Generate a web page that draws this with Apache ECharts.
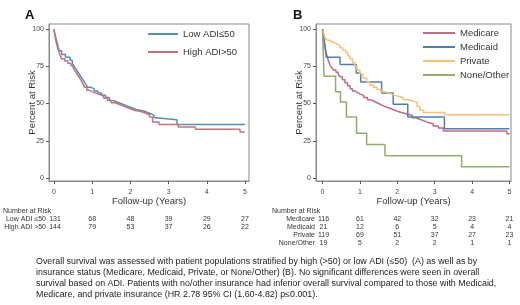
<!DOCTYPE html>
<html><head><meta charset="utf-8">
<script src="https://cdn.jsdelivr.net/npm/echarts@6/dist/echarts.min.js"></script>
<style>html,body{margin:0;padding:0;background:#fff}#c{width:520px;height:305px}</style>
</head><body><div id="c"></div>
<script>
// ---------- DATA ----------
const xTicks = [0, 1, 2, 3, 4, 5];
const yTicks = [0, 25, 50, 75, 100];

// Panel A: ADI
const lowAdiT  = [0,0.02,0.05,0.08,0.11,0.14,0.2,0.3,0.42,0.48,0.53,0.58,0.63,0.68,0.73,0.78,0.83,0.88,0.95,1.05,1.15,1.25,1.35,1.45,1.55,1.65,1.75,1.85,1.95,2.05,2.15,2.25,2.35,2.45,2.55,2.62,2.68,3.22,5.0];
const lowAdiS  = [100,97,94,91,88,85.5,83,81,79,77,75,73,71,69,67,65,63,61,60,58.5,57,55.5,54,52,51,50,49,48,47,46,45.5,45,44,43,42,40.5,39.2,36,36];
const highAdiT = [0,0.02,0.05,0.08,0.11,0.15,0.2,0.28,0.36,0.44,0.5,0.55,0.6,0.65,0.7,0.75,0.8,0.86,0.92,1.0,1.1,1.2,1.3,1.4,1.5,1.6,1.7,1.8,1.9,2.0,2.1,2.2,2.3,2.4,2.5,2.58,2.75,3.25,3.7,4.87,5.0];
const highAdiS = [100,96,92,89,86,83,80,78.5,77,75.5,74,72,70,68,66,63.5,61,59,58,57,56,55,53.5,52,50.5,49.5,48.5,47.5,46.5,45.5,45,44.5,43.5,42.5,41,37.6,36,34.2,32.7,30.9,30.9];

// Panel B: insurance
const medicareT = [0,0.02,0.04,0.07,0.1,0.13,0.16,0.2,0.25,0.3,0.36,0.42,0.47,0.53,0.6,0.67,0.74,0.8,0.87,0.93,1.0,1.1,1.2,1.3,1.4,1.5,1.6,1.7,1.8,1.9,2.0,2.1,2.25,2.4,2.5,2.6,2.7,2.8,2.96,3.1,3.23,4.93,5.0];
const medicareS = [100,95,91,87,84,81,78.5,76,74,72.5,71,69.5,68,66,64,62,60,58.5,57.5,56.5,55.5,54,52.5,51.2,50,48.8,47.7,46.8,45.8,44.8,44,43.2,42,40.5,39.5,38.5,37.5,36.5,35,33.5,31.5,29.8,29.8];
const medicaidT = [0,0.03,0.06,0.1,0.47,0.9,1.02,1.58,1.89,2.28,3.26,5.0];
const medicaidS = [100,95.2,90.5,81,76.2,70.5,64.4,57,49.5,41,33,33];
const privateT  = [0,0.03,0.06,0.1,0.15,0.22,0.3,0.38,0.46,0.54,0.62,0.68,0.74,0.8,0.86,0.92,1.0,1.08,1.18,1.27,1.36,1.46,1.56,1.66,1.78,1.89,2.0,2.16,2.3,2.43,2.53,2.6,2.7,3.27,5.0];
const privateS  = [100,97,95,93,92,91,90,89,87.5,86,84,82,80,77.5,75,72.5,70,67,64.5,62.5,61,59.5,58,57,56,55,54,52.5,51.5,51,48,45.5,44,42.5,42.5];
const noneT     = [0,0.04,0.35,0.48,0.64,0.91,1.18,1.67,3.72,5.0];
const noneS     = [100,68.4,58,51,41,30,22.5,15,7.5,7.5];

// Number at risk
const riskA = [
  {label: 'Low ADI \u226450', values: [131, 68, 48, 39, 29, 27]},
  {label: 'High ADI >50',     values: [144, 79, 53, 37, 26, 22]}
];
const riskB = [
  {label: 'Medicare',   values: [116, 61, 42, 32, 23, 21]},
  {label: 'Medicaid',   values: [21, 12, 6, 5, 4, 4]},
  {label: 'Private',    values: [119, 69, 51, 37, 27, 23]},
  {label: 'None/Other', values: [19, 5, 2, 2, 1, 1]}
];

const captionLines = [
  'Overall survival was assessed with patient populations stratified by high (>50) or low ADI (\u226450)  (A) as well as by',
  'insurance status (Medicare, Medicaid, Private, or None/Other) (B). No significant differences were seen in overall',
  'survival based on ADI. Patients with no/other insurance had inferior overall survival compared to those with Medicaid,',
  'Medicare, and private insurance (HR 2.78 95% CI (1.60-4.82) p\u22640.001).'
];

// ---------- CHART ----------
const FONT = 'Liberation Sans';
const TXT = '#333';
const FRAME = '#8a8a8a';
const pairs = (t, s) => t.map((v, i) => [v, s[i]]);

function xAx(gi, min, max) {
  return {
    gridIndex: gi, type: 'value', min: min, max: max,
    name: 'Follow-up (Years)', nameLocation: 'middle', nameGap: 15, nameMoveOverlap: false,
    nameTextStyle: {fontFamily: FONT, fontSize: 9.5, color: TXT},
    axisLine: {show: true, onZero: false, lineStyle: {color: FRAME, width: 1}},
    axisTick: {show: true, length: 3, customValues: xTicks, lineStyle: {color: '#555'}},
    axisLabel: {customValues: xTicks, fontFamily: FONT, fontSize: 7, color: '#444', margin: 8},
    splitLine: {show: false}
  };
}
function yAx(gi) {
  return {
    gridIndex: gi, type: 'value', min: -2, max: 103.4,
    name: 'Percent at Risk', nameLocation: 'middle', nameGap: 12, nameMoveOverlap: false,
    nameTextStyle: {fontFamily: FONT, fontSize: 9.5, color: TXT},
    axisLine: {show: true, onZero: false, lineStyle: {color: FRAME, width: 1}},
    axisTick: {show: true, length: 3, customValues: yTicks, lineStyle: {color: '#555'}},
    axisLabel: {customValues: yTicks, fontFamily: FONT, fontSize: 7, color: '#444', margin: 5},
    splitLine: {show: false}
  };
}
function km(name, t, s, color, xi) {
  return {
    name: name, type: 'line', step: 'end', xAxisIndex: xi, yAxisIndex: xi,
    data: pairs(t, s), symbol: 'none', lineStyle: {color: color, width: 1.5}, itemStyle: {color: color},
    animation: false
  };
}

const cLow = '#5a8fb0', cHigh = '#c4727f';
const cMcare = '#c06b80', cMcaid = '#4f80ad', cPriv = '#f2c27a', cNone = '#95ab6c';

const chart = echarts.init(document.getElementById('c'), null, {renderer: 'canvas'});
chart.setOption({
  backgroundColor: '#fff',
  animation: false,
  title: [
    {text: 'A', left: 25, top: 9, padding: 0, textStyle: {fontFamily: FONT, fontWeight: 'bold', fontSize: 13, color: '#111'}},
    {text: 'B', left: 293, top: 9, padding: 0, textStyle: {fontFamily: FONT, fontWeight: 'bold', fontSize: 13, color: '#111'}}
  ],
  grid: [
    {left: 49, top: 24, width: 200, height: 157, show: true, borderColor: FRAME, borderWidth: 1, backgroundColor: 'transparent'},
    {left: 316, top: 24, width: 195, height: 157, show: true, borderColor: FRAME, borderWidth: 1, backgroundColor: 'transparent'}
  ],
  xAxis: [xAx(0, -0.131, 5.105), xAx(1, -0.174, 5.04)],
  yAxis: [yAx(0), yAx(1)],
  legend: [
    {data: ['Low ADI\u226450', 'High ADI>50'], orient: 'vertical', left: 148, top: 28, padding: 0,
     icon: 'rect', itemWidth: 30, itemHeight: 2, itemGap: 6,
     textStyle: {fontFamily: FONT, fontSize: 9.5, color: TXT, lineHeight: 12}},
    {data: ['Medicare', 'Medicaid', 'Private', 'None/Other'], orient: 'vertical', left: 423, top: 27, padding: 0,
     icon: 'rect', itemWidth: 32, itemHeight: 2, itemGap: 2,
     textStyle: {fontFamily: FONT, fontSize: 9.5, color: TXT, lineHeight: 12}}
  ],
  series: [
    km('Low ADI\u226450', lowAdiT, lowAdiS, cLow, 0),
    km('High ADI>50', highAdiT, highAdiS, cHigh, 0),
    km('Medicare', medicareT, medicareS, cMcare, 1),
    km('Medicaid', medicaidT, medicaidS, cMcaid, 1),
    km('Private', privateT, privateS, cPriv, 1),
    km('None/Other', noneT, noneS, cNone, 1)
  ]
});

// Number-at-risk tables and caption
const g = [];
const tFont = {fontFamily: FONT, fontSize: 7, fill: '#333'};
function table(xi, rows, labelRight, headerLeft) {
  g.push({type: 'text', x: headerLeft, y: 211, style: Object.assign({text: 'Number at Risk', verticalAlign: 'middle'}, tFont)});
  rows.forEach((r, ri) => {
    const y = 219 + ri * 8;
    g.push({type: 'text', x: labelRight, y: y, style: Object.assign({text: r.label, align: 'right', verticalAlign: 'middle'}, tFont)});
    r.values.forEach((v, i) => {
      const px = chart.convertToPixel({xAxisIndex: xi}, xTicks[i]);
      g.push({type: 'text', x: px + (i === 0 ? 1 : 0), y: y, style: Object.assign({text: String(v), align: 'center', verticalAlign: 'middle'}, tFont)});
    });
  });
}
table(0, riskA, 46, 3);
table(1, riskB, 315, 272);
captionLines.forEach((line, i) => {
  g.push({type: 'text', x: 36, y: 262 + i * 10.8, style: {text: line, fontFamily: FONT, fontSize: 8.9, fill: '#222', verticalAlign: 'middle'}});
});
chart.setOption({graphic: g});
</script>
</body></html>
